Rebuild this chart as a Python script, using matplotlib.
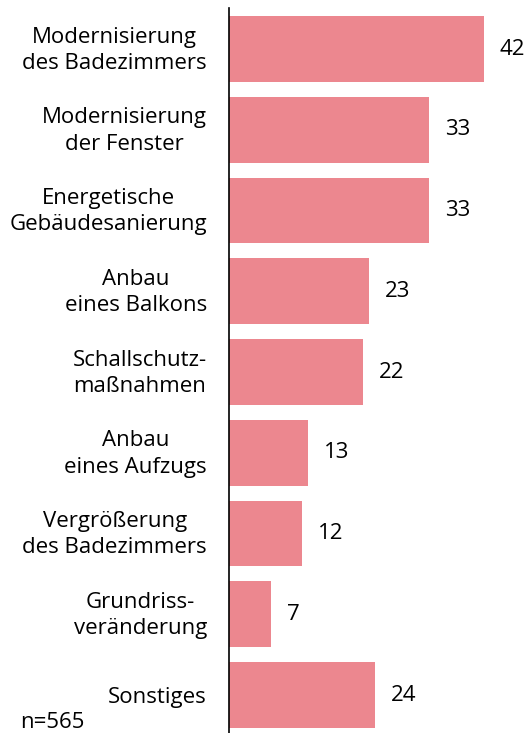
import matplotlib
matplotlib.use("Agg")
import matplotlib.pyplot as plt
from matplotlib.transforms import ScaledTranslation

categories = [
    "Modernisierung\ndes Badezimmers",
    "Modernisierung\nder Fenster",
    "Energetische\nGebäudesanierung",
    "Anbau\neines Balkons",
    "Schallschutz-\nmaßnahmen",
    "Anbau\neines Aufzugs",
    "Vergrößerung\ndes Badezimmers",
    "Grundriss-\nveränderung",
    "Sonstiges",
]
values = [42, 33, 33, 23, 22, 13, 12, 7, 24]
note = "n=565"

plt.rcParams['font.family'] = ['Open Sans', 'DejaVu Sans']
W, H = 525, 733
fig = plt.figure(figsize=(W/100, H/100), dpi=100)
ax = fig.add_axes([229/W, 0, 1 - 229/W, 1 - 8/H])

y = list(range(len(categories)))
ax.barh(y, values, height=0.815, color='#EC878F', edgecolor='none')
ax.set_xlim(0, (W - 229) / 6.07)
ax.set_ylim(len(categories) - 1 + 0.47, -0.508)

for yi, v in zip(y, values):
    ax.annotate(str(v), xy=(v, yi), xytext=(16, 0), textcoords='offset pixels',
                va='center', ha='left', fontsize=16, color='#000000')

ax.set_yticks(y)
labels = ax.set_yticklabels(categories, fontsize=16, linespacing=1.33, color='#000000',
                            ha='right', multialignment='center')
ax.tick_params(axis='y', length=0, pad=15.8)
shift = ScaledTranslation(0, 4/100, fig.dpi_scale_trans)
for lab in ax.get_yticklabels():
    if "\n" in lab.get_text():
        lab.set_transform(lab.get_transform() + shift)
ax.set_xticks([])
for s in ['top', 'right', 'bottom']:
    ax.spines[s].set_visible(False)
ax.spines['left'].set_color('#000000')
ax.spines['left'].set_linewidth(1.2)

fig.text(20/W, 1 - 722/H, note, fontsize=16, color='#000000', va='center', ha='left')

fig.savefig('out.png', dpi=100)
